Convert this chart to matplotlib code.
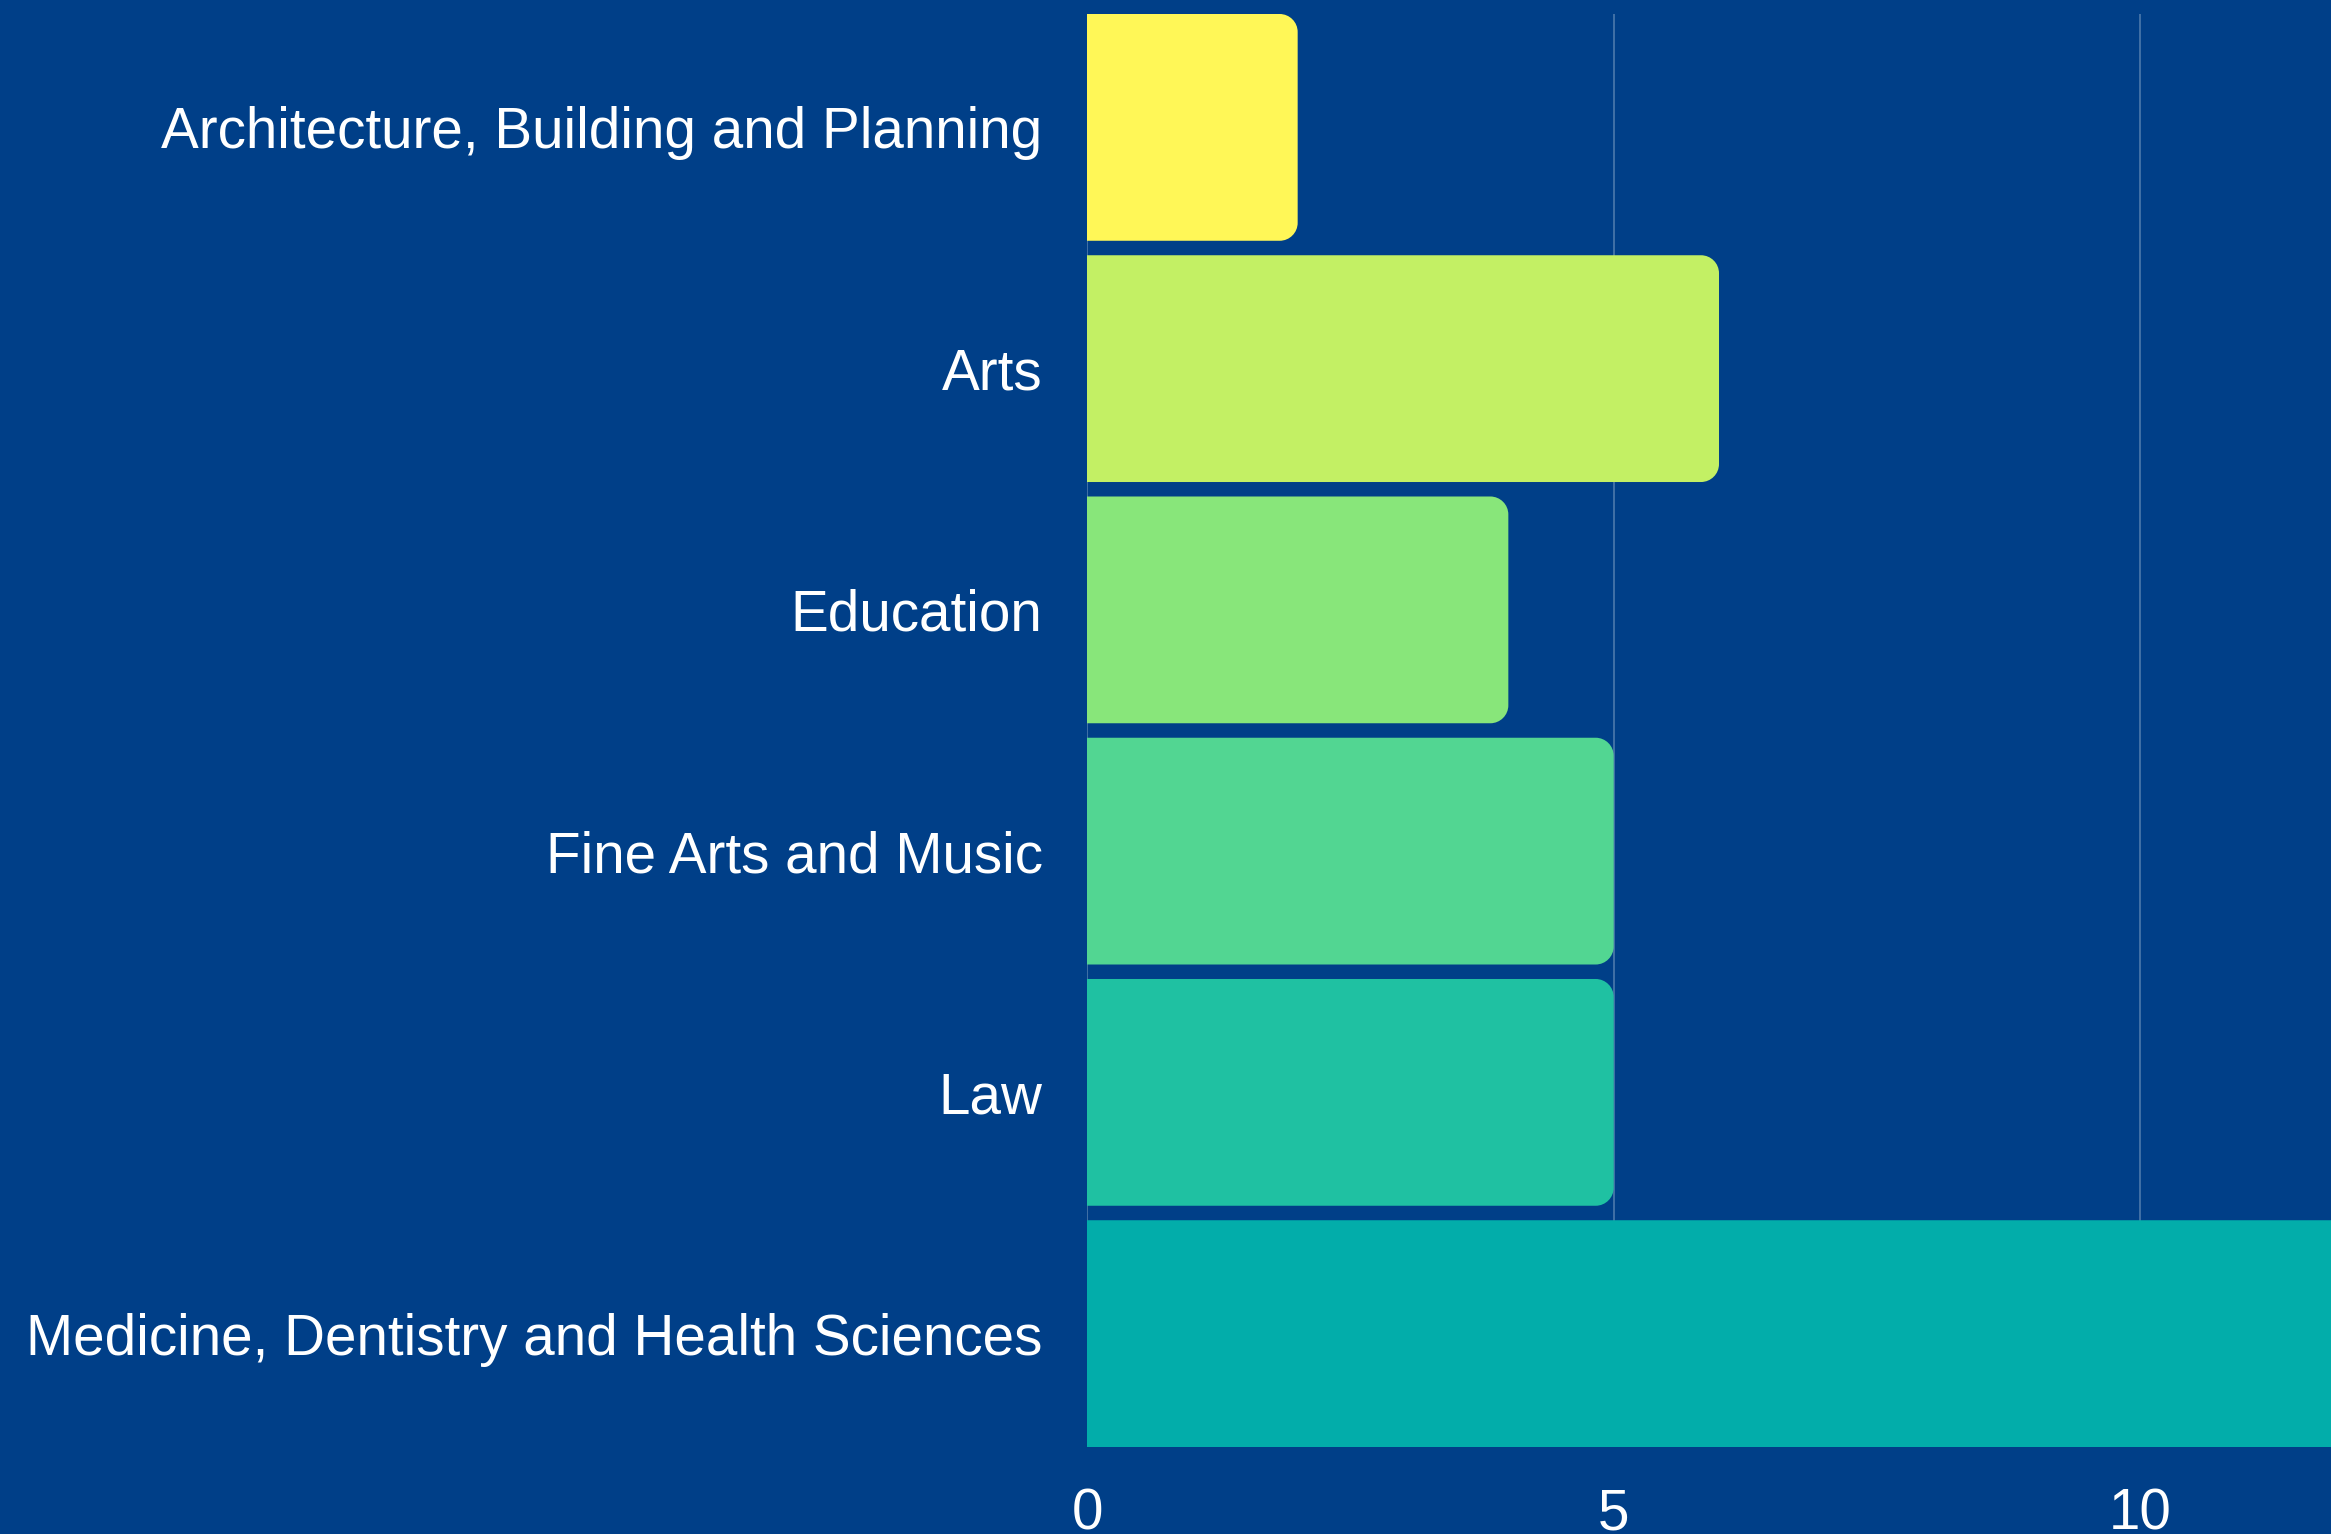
import matplotlib
matplotlib.use("Agg")
import matplotlib.pyplot as plt
from matplotlib.path import Path
from matplotlib.patches import PathPatch

# data
categories = [
    "Architecture, Building and Planning",
    "Arts",
    "Education",
    "Fine Arts and Music",
    "Law",
    "Medicine, Dentistry and Health Sciences",
]
values = [2, 6, 4, 5, 5, 12]
bar_colors = ["#FFF757", "#C3F064", "#88E67A", "#52D692", "#1FC1A2", "#02ADAA"]
x_ticks = [0, 5, 10]

BG = "#003F88"
W, H, DPI = 2331, 1534, 100
BAR_H = 0.94
X_MAX = 11.81
RADIUS_PX = 18


def rounded_right(x0, y0, w, h, rx, ry):
    """Rectangle in data coords with only the right-hand corners rounded."""
    rx = min(rx, w)
    k = 0.5523
    x1, y1 = x0 + w, y0 + h
    verts = [
        (x0, y0), (x1 - rx, y0),
        (x1 - rx + k * rx, y0), (x1, y0 + ry - k * ry), (x1, y0 + ry),
        (x1, y1 - ry),
        (x1, y1 - ry + k * ry), (x1 - rx + k * rx, y1), (x1 - rx, y1),
        (x0, y1), (x0, y0),
    ]
    codes = [Path.MOVETO, Path.LINETO,
             Path.CURVE4, Path.CURVE4, Path.CURVE4,
             Path.LINETO,
             Path.CURVE4, Path.CURVE4, Path.CURVE4,
             Path.LINETO, Path.CLOSEPOLY]
    return Path(verts, codes)


plt.rcParams["font.family"] = ["Liberation Sans", "DejaVu Sans"]

fig = plt.figure(figsize=(W / DPI, H / DPI), dpi=DPI, facecolor=BG)
left, top, bottom = 1087, 14, 1447
ax = fig.add_axes([left / W, 1 - bottom / H, (W - left) / W, (bottom - top) / H])
ax.set_facecolor(BG)

ypos = list(range(len(categories)))
ax.set_xlim(0, X_MAX)
ax.set_ylim(len(categories) - 1 + BAR_H / 2, -BAR_H / 2)

# bars via barh, then swapped for right-rounded shapes
bars = ax.barh(ypos, values, height=BAR_H, color=bar_colors, zorder=2)
px_x = (W - left) / X_MAX
px_y = (bottom - top) / (len(categories) - 1 + BAR_H)
rx, ry = RADIUS_PX / px_x, RADIUS_PX / px_y
for b, c in zip(bars, bar_colors):
    b.set_visible(False)
    p = PathPatch(rounded_right(b.get_x(), b.get_y(), b.get_width(), b.get_height(), rx, ry),
                  facecolor=c, edgecolor="none", zorder=2)
    ax.add_patch(p)

ax.set_xticks(x_ticks)
ax.set_yticks(ypos)
ax.set_yticklabels(categories)
ax.grid(axis="x", color="white", alpha=0.3, linewidth=1.2, zorder=0)
ax.set_axisbelow(True)
for s in ax.spines.values():
    s.set_visible(False)
ax.tick_params(axis="both", length=0, colors="white", labelsize=40.8)
ax.tick_params(axis="y", pad=32)
ax.tick_params(axis="x", pad=29)

fig.savefig("out.png", dpi=DPI, facecolor=BG)
